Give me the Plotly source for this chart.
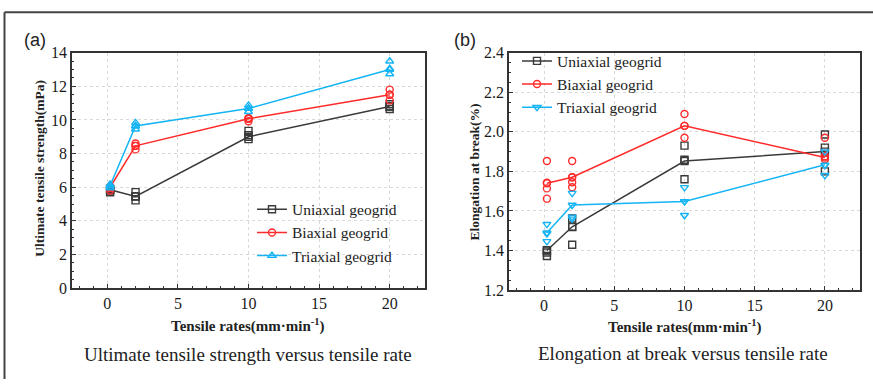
import plotly.graph_objects as go

# ---------------- data ----------------
rates = [0.2, 2, 10, 20]

# Panel (a): ultimate tensile strength (mPa) - means and individual specimens
uts_uni_mean = [5.85, 5.45, 9.0, 10.8]
uts_bi_mean = [6.0, 8.46, 10.07, 11.5]
uts_tri_mean = [6.1, 9.64, 10.68, 13.0]
uts_uni_pts = [[5.7, 5.8, 5.9], [5.22, 5.46, 5.71], [8.86, 9.1, 9.35], [10.65, 10.8, 10.93]]
uts_bi_pts = [[5.8, 5.95, 6.05], [8.25, 8.46, 8.6], [9.92, 10.07, 10.11], [11.16, 11.5, 11.8]]
uts_tri_pts = [[5.95, 6.05, 6.17], [9.45, 9.64, 9.83], [10.49, 10.68, 10.87], [12.73, 13.05, 13.49]]

# Panel (b): elongation at break (%)
el_uni_mean = [1.40, 1.52, 1.852, 1.90]
el_bi_mean = [1.74, 1.77, 2.03, 1.87]
el_tri_mean = [1.49, 1.63, 1.648, 1.833]
el_uni_pts = [[1.372, 1.39, 1.401], [1.429, 1.519, 1.562], [1.76, 1.859, 1.93], [1.80, 1.92, 1.986]]
el_bi_pts = [[1.662, 1.714, 1.743, 1.852], [1.72, 1.745, 1.77, 1.852], [1.97, 2.03, 2.09], [1.86, 1.877, 1.97]]
el_tri_pts = [[1.446, 1.485, 1.533], [1.56, 1.57, 1.69], [1.578, 1.648, 1.719], [1.78, 1.83, 1.90]]

names = ["Uniaxial geogrid", "Biaxial geogrid", "Triaxial geogrid"]
colors = ["#3a3a3a", "#ff2a2a", "#14b4f5"]

SERIF = "Liberation Serif, Times New Roman, serif"

fig = go.Figure()


def add_series(xa, ya, mean, pts, name, color, symbol, legend):
    mk = dict(symbol=symbol, size=7, color=color, line=dict(color=color, width=1.4))
    fig.add_trace(go.Scatter(
        x=rates, y=mean, mode="lines+markers", name=name,
        line=dict(color=color, width=1.5), marker=mk,
        xaxis=xa, yaxis=ya, showlegend=True, legend=legend))
    px, py = [], []
    for r, vals in zip(rates, pts):
        for v in vals:
            px.append(r)
            py.append(v)
    fig.add_trace(go.Scatter(
        x=px, y=py, mode="markers", showlegend=False, marker=mk,
        xaxis=xa, yaxis=ya))


sym_a = ["square-open", "circle-open", "triangle-up-open"]
sym_b = ["square-open", "circle-open", "triangle-down-open"]
for n, c, s, m, p in zip(names, colors, sym_a,
                         [uts_uni_mean, uts_bi_mean, uts_tri_mean],
                         [uts_uni_pts, uts_bi_pts, uts_tri_pts]):
    add_series("x", "y", m, p, n, c, s, "legend")
for n, c, s, m, p in zip(names, colors, sym_b,
                         [el_uni_mean, el_bi_mean, el_tri_mean],
                         [el_uni_pts, el_bi_pts, el_tri_pts]):
    add_series("x2", "y2", m, p, n, c, s, "legend2")

W, H = 873, 388
axis_common = dict(
    showline=True, linecolor="#333333", linewidth=1.5, mirror=True,
    ticks="inside", ticklen=4, tickcolor="#333333",
    showgrid=True, gridcolor="#d9d9d9", griddash="dot", gridwidth=1,
    zeroline=False,
    tickfont=dict(family=SERIF, size=16, color="#1a1a1a"),
    minor=dict(ticks="inside", ticklen=2, tickcolor="#333333", showgrid=False),
)

xtitle = "<b>Tensile rates(mm·min<sup>-1</sup>)</b>"
LEGFONT = dict(family=SERIF, size=15.5, color="#222222")

fig.update_layout(
    width=W, height=H,
    margin=dict(l=0, r=0, t=0, b=0),
    paper_bgcolor="white", plot_bgcolor="white",
    xaxis=dict(domain=[72 / W, 425 / W], range=[-2.5, 22.5], dtick=5,
               anchor="y", **axis_common),
    yaxis=dict(domain=[1 - 293 / H, 1 - 46.7 / H], range=[0, 14], dtick=2,
               anchor="x", **axis_common),
    xaxis2=dict(domain=[509 / W, 860 / W], range=[-2.5, 22.5], dtick=5,
                anchor="y2", **axis_common),
    yaxis2=dict(domain=[1 - 295 / H, 1 - 46.7 / H], range=[1.2, 2.4], dtick=0.2,
                tickformat=".1f", anchor="x2", **axis_common),
    legend=dict(x=252 / W, y=1 - 235 / H, xanchor="left", yanchor="middle",
                font=LEGFONT, bgcolor="rgba(0,0,0,0)", tracegroupgap=0, itemwidth=30),
    legend2=dict(x=517 / W, y=1 - 38 / H, xanchor="left", yanchor="top",
                 font=LEGFONT, bgcolor="rgba(0,0,0,0)", tracegroupgap=0, itemwidth=30),
    showlegend=True,
)

annos = [
    dict(text="(a)", x=22 / W, y=1 - 33 / H, font=dict(family="Liberation Sans, Arial", size=18, color="#222")),
    dict(text="(b)", x=452 / W, y=1 - 33 / H, font=dict(family="Liberation Sans, Arial", size=18, color="#222")),
    dict(text=xtitle, x=248 / W, y=1 - 332 / H, xanchor="center",
         font=dict(family=SERIF, size=15, color="#222")),
    dict(text=xtitle, x=685 / W, y=1 - 333 / H, xanchor="center",
         font=dict(family=SERIF, size=15, color="#222")),
    dict(text="Ultimate tensile strength versus tensile rate", x=248 / W, y=1 - 362 / H,
         xanchor="center", font=dict(family=SERIF, size=19, color="#222")),
    dict(text="Elongation at break versus tensile rate", x=683 / W, y=1 - 361 / H,
         xanchor="center", font=dict(family=SERIF, size=19, color="#222")),
    dict(text="<b>Ultimate tensile strength(mPa)</b>", x=40 / W, y=1 - 168 / H,
         xanchor="center", textangle=-90, font=dict(family=SERIF, size=13.5, color="#222")),
    dict(text="<b>Elongation at break(%)</b>", x=475 / W, y=1 - 171 / H,
         xanchor="center", textangle=-90, font=dict(family=SERIF, size=13.5, color="#222")),
]
for a in annos:
    a.setdefault("xanchor", "left")
    a.update(xref="paper", yref="paper", yanchor="middle", showarrow=False)
    fig.add_annotation(**a)

# outer frame (top and left edges)
fig.add_shape(type="line", xref="paper", yref="paper", x0=4.5 / W, x1=1, y0=1 - 4.5 / H, y1=1 - 4.5 / H,
              line=dict(color="#444", width=2))
fig.add_shape(type="line", xref="paper", yref="paper", x0=4.5 / W, x1=4.5 / W, y0=0, y1=1 - 4.5 / H,
              line=dict(color="#444", width=2))

fig.write_html("out.html")
